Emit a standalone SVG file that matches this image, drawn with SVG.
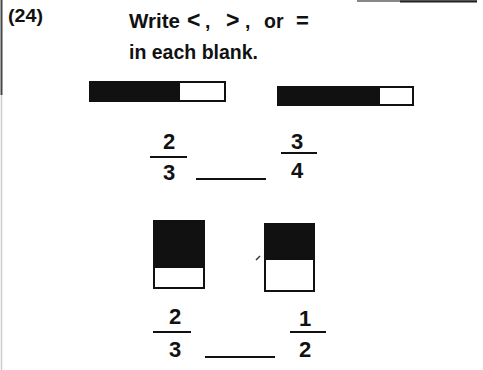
<svg xmlns="http://www.w3.org/2000/svg" width="483" height="370" viewBox="0 0 483 370">
<style>
.t{font-family:"Liberation Sans",Arial,sans-serif;font-weight:bold;fill:#111}
.q{font-size:19.5px}
.d{font-size:22px;text-anchor:middle}
.box{fill:#fff;stroke:#111;stroke-width:2}
.blk{fill:#111}
.ln{stroke:#111;stroke-width:2}
</style>
<rect width="483" height="370" fill="#fff"/>
<g id="frame">
<line x1="1.5" y1="0" x2="1.5" y2="95" stroke="#444" stroke-width="2"/>
<line x1="1.5" y1="95" x2="1.5" y2="370" stroke="#ccc" stroke-width="1.5"/>
<line x1="357" y1="1" x2="477" y2="1" stroke="#888" stroke-width="2"/>
<line x1="400" y1="1.5" x2="477" y2="1.5" stroke="#222" stroke-width="2"/>
</g>
<g id="header">
<text class="t" x="8" y="22" font-size="18" textLength="35" lengthAdjust="spacingAndGlyphs">(24)</text>
<text class="t q" y="28"><tspan x="129" textLength="51" lengthAdjust="spacingAndGlyphs">Write</tspan><tspan x="187" font-size="23">&lt;</tspan><tspan x="205">,</tspan><tspan x="226" font-size="23">&gt;</tspan><tspan x="245">,</tspan><tspan x="264">or</tspan><tspan x="296" font-size="22">=</tspan></text>
<text class="t q" x="129" y="59" textLength="129" lengthAdjust="spacingAndGlyphs">in each blank.</text>
</g>
<g id="bar1">
<rect class="box" x="90" y="82" width="135" height="19"/>
<rect class="blk" x="89" y="81" width="91" height="21"/>
</g>
<g id="bar2">
<rect class="box" x="278" y="87" width="135" height="18"/>
<rect class="blk" x="277" y="86" width="103" height="20"/>
</g>
<g id="frac1">
<text class="t d" x="169" y="149">2</text>
<line class="ln" x1="150" y1="157" x2="187" y2="157"/>
<text class="t d" x="169" y="180">3</text>
</g>
<g id="blank1"><line class="ln" x1="196" y1="179" x2="266" y2="179"/></g>
<g id="frac2">
<text class="t d" x="297" y="149">3</text>
<line class="ln" x1="281" y1="153" x2="317" y2="153"/>
<text class="t d" x="297" y="178">4</text>
</g>
<g id="sq1">
<rect class="box" x="154" y="221" width="50" height="67"/>
<rect class="blk" x="153" y="220" width="52" height="48"/>
</g>
<g id="sq2">
<rect class="box" x="265" y="224" width="49" height="67"/>
<rect class="blk" x="264" y="223" width="51" height="37"/>
</g>
<line x1="256" y1="260" x2="260" y2="256" stroke="#333" stroke-width="1.5"/>
<g id="frac3">
<text class="t d" x="175" y="324">2</text>
<line class="ln" x1="153" y1="332" x2="191" y2="332"/>
<text class="t d" x="175" y="357">3</text>
</g>
<g id="blank2"><line class="ln" x1="205" y1="357" x2="275" y2="357"/></g>
<g id="frac4">
<text class="t d" x="305" y="326">1</text>
<line class="ln" x1="290" y1="332" x2="326" y2="332"/>
<text class="t d" x="305" y="357">2</text>
</g>
</svg>
